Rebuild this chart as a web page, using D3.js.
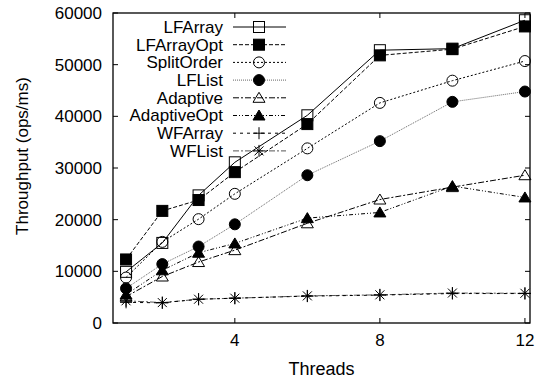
<!DOCTYPE html>
<html>
<head>
<meta charset="utf-8">
<script src="https://cdn.jsdelivr.net/npm/d3@7"></script>
<style>
  body { margin: 0; background: #fff; }
  text { font-family: "Liberation Sans", Arial, sans-serif; }
</style>
</head>
<body>
<div id="chart"></div>
<script>
// data
var threads = [1, 2, 3, 4, 6, 8, 10, 12];
var lfArray = [9900, 15500, 24700, 31100, 40200, 52800, 53100, 58600];
var lfArrayOpt = [12300, 21700, 23800, 29200, 38500, 51800, 53000, 57400];
var splitOrder = [8800, 15700, 20100, 25000, 33800, 42600, 46900, 50700];
var lfList = [6700, 11400, 14800, 19100, 28600, 35200, 42800, 44800];
var adaptive = [5100, 9000, 11800, 14100, 19300, 23900, 26300, 28600];
var adaptiveOpt = [5500, 10200, 13600, 15400, 20300, 21400, 26500, 24300];
var wfArray = [4000, 3900, 4600, 4800, 5200, 5400, 5700, 5700];
var wfList = [4300, 3950, 4600, 4800, 5250, 5450, 5800, 5750];
var yTicks = [0, 10000, 20000, 30000, 40000, 50000, 60000];
var xTicks = [4, 8, 12];

var series = [
	{ name: "LFArray", values: lfArray, marker: "square", fill: "none", dash: null, color: "#000" },
	{ name: "LFArrayOpt", values: lfArrayOpt, marker: "square", fill: "#000", dash: "4,2", color: "#000" },
	{ name: "SplitOrder", values: splitOrder, marker: "circle", fill: "none", dash: "2,2", color: "#000" },
	{ name: "LFList", values: lfList, marker: "circle", fill: "#000", dash: "1,1", color: "#666" },
	{ name: "Adaptive", values: adaptive, marker: "triangle", fill: "none", dash: "6,2,2,2", color: "#000" },
	{ name: "AdaptiveOpt", values: adaptiveOpt, marker: "triangle", fill: "#000", dash: "4,2,1,2,1,2", color: "#000" },
	{ name: "WFArray", values: wfArray, marker: "plus", fill: "none", dash: "3,4", color: "#000" },
	{ name: "WFList", values: wfList, marker: "star", fill: "none", dash: "6,2,2,2", color: "#555" }
];

var width = 539, height = 381;
var margin = { top: 13, right: 9, bottom: 58, left: 113 };
var innerW = width - margin.left - margin.right;
var innerH = height - margin.top - margin.bottom;

var svg = d3.select("#chart").append("svg")
	.attr("width", width)
	.attr("height", height);

var g = svg.append("g")
	.attr("transform", "translate(" + margin.left + "," + margin.top + ")");

var x = d3.scaleLinear().domain([0.64, 12.14]).range([0, innerW]);
var y = d3.scaleLinear().domain([0, 60000]).range([innerH, 0]);

// ticks on all four sides, pointing inward
var tickLen = 5;
yTicks.forEach(function (t) {
	g.append("line").attr("x1", 0).attr("x2", tickLen)
		.attr("y1", y(t)).attr("y2", y(t)).attr("stroke", "#000");
	g.append("line").attr("x1", innerW).attr("x2", innerW - tickLen)
		.attr("y1", y(t)).attr("y2", y(t)).attr("stroke", "#000");
	g.append("text").attr("x", -11).attr("y", y(t)).attr("dy", "0.35em")
		.attr("text-anchor", "end").attr("font-size", 17).text(t);
});
xTicks.forEach(function (t) {
	g.append("line").attr("x1", x(t)).attr("x2", x(t))
		.attr("y1", innerH).attr("y2", innerH - tickLen).attr("stroke", "#000");
	g.append("line").attr("x1", x(t)).attr("x2", x(t))
		.attr("y1", 0).attr("y2", tickLen).attr("stroke", "#000");
	g.append("text").attr("x", x(t)).attr("y", innerH + 23)
		.attr("text-anchor", "middle").attr("font-size", 17).text(t);
});

// axis titles
svg.append("text").attr("x", margin.left + innerW / 2).attr("y", 375)
	.attr("text-anchor", "middle").attr("font-size", 18).text("Threads");
svg.append("text")
	.attr("transform", "translate(28," + (margin.top + innerH / 2 - 12) + ") rotate(-90)")
	.attr("text-anchor", "middle").attr("font-size", 17).text("Throughput (ops/ms)");

function drawMarker(sel, type, fill) {
	if (type == "square") {
		sel.append("rect").attr("x", -5.5).attr("y", -5.5).attr("width", 11).attr("height", 11)
			.attr("fill", fill == "none" ? "#fff" : fill).attr("fill-opacity", fill == "none" ? 0 : 1)
			.attr("stroke", "#000").attr("stroke-width", 1);
	} else if (type == "circle") {
		sel.append("circle").attr("r", 5.5)
			.attr("fill", fill == "none" ? "#fff" : fill).attr("fill-opacity", fill == "none" ? 0 : 1)
			.attr("stroke", "#000").attr("stroke-width", 1);
	} else if (type == "triangle") {
		sel.append("path").attr("d", "M0,-5.5L6,4.5L-6,4.5Z")
			.attr("fill", fill == "none" ? "#fff" : fill).attr("fill-opacity", fill == "none" ? 0 : 1)
			.attr("stroke", "#000").attr("stroke-width", 1);
	} else if (type == "plus") {
		sel.append("path").attr("d", "M-6,0H6M0,-6V6")
			.attr("stroke", "#000").attr("stroke-width", 1);
	} else if (type == "star") {
		sel.append("path").attr("d", "M-6,0H6M0,-6V6M-4.5,-4.5L4.5,4.5M-4.5,4.5L4.5,-4.5")
			.attr("stroke", "#000").attr("stroke-width", 1);
	}
}

var line = d3.line()
	.x(function (d, i) { return x(threads[i]); })
	.y(function (d) { return y(d); });

// draw in reverse so the first series sits on top, like gnuplot
series.slice().reverse().forEach(function (s) {
	g.append("path")
		.attr("d", line(s.values))
		.attr("fill", "none")
		.attr("stroke", s.color)
		.attr("stroke-width", 1)
		.attr("stroke-dasharray", s.dash);
	s.values.forEach(function (v, i) {
		var m = g.append("g").attr("transform", "translate(" + x(threads[i]) + "," + y(v) + ")");
		drawMarker(m, s.marker, s.fill);
	});
});

// legend
var legend = svg.append("g");
series.forEach(function (s, i) {
	var ly = 27 + i * 17.7;
	legend.append("text").attr("x", 223).attr("y", ly).attr("dy", "0.35em")
		.attr("text-anchor", "end").attr("font-size", 17).text(s.name);
	legend.append("line").attr("x1", 233).attr("x2", 286).attr("y1", ly).attr("y2", ly)
		.attr("stroke", s.color).attr("stroke-dasharray", s.dash);
	var m = legend.append("g").attr("transform", "translate(259," + ly + ")");
	drawMarker(m, s.marker, s.fill);
});

// frame
g.append("rect").attr("width", innerW).attr("height", innerH)
	.attr("fill", "none").attr("stroke", "#000").attr("stroke-width", 1.3);
</script>
</body>
</html>
